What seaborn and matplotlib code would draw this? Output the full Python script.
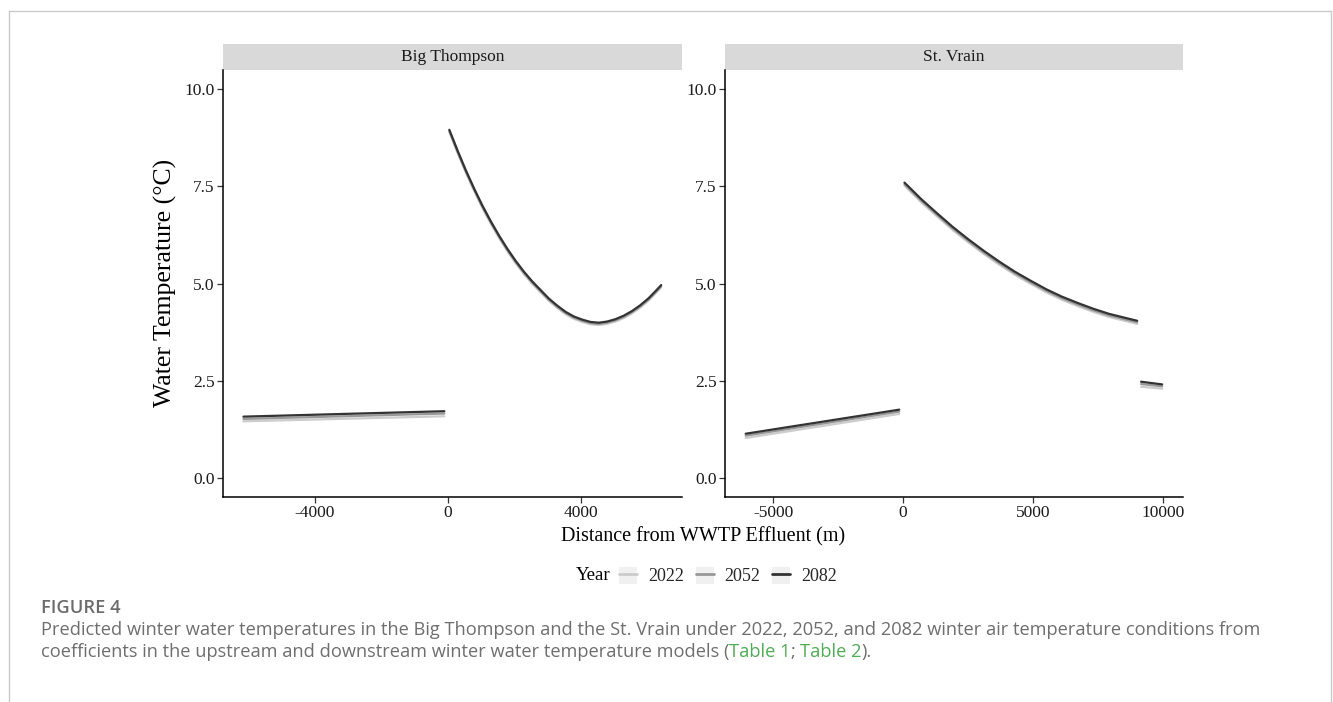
"""Predicted winter water temperature, Big Thompson vs St. Vrain"""
import pandas as pd
import seaborn as sns
import matplotlib.pyplot as plt
from matplotlib.patches import Rectangle, Patch
from matplotlib.lines import Line2D
from matplotlib.legend_handler import HandlerTuple

years = ['2022', '2052', '2082']
year_colors = ['#cccccc', '#989898', '#333333']
rivers = ['Big Thompson', 'St. Vrain']

# --- Big Thompson: upstream (straight) and downstream (curve) ---
bt_up_x = [-6150, -100]
bt_up_2022 = [1.45, 1.58]
bt_up_2052 = [1.51, 1.65]
bt_up_2082 = [1.57, 1.71]

bt_dn_x = [50, 300, 550, 800, 1050, 1300, 1550, 1800, 2050, 2300, 2550, 2800,
           3050, 3300, 3550, 3800, 4050, 4300, 4550, 4800, 5050, 5300, 5550,
           5800, 6050, 6300, 6430]
bt_dn_2082 = [8.96, 8.42, 7.91, 7.44, 7.00, 6.60, 6.23, 5.89, 5.58, 5.30, 5.05,
              4.83, 4.61, 4.43, 4.27, 4.15, 4.07, 4.01, 3.99, 4.02, 4.08, 4.17,
              4.29, 4.44, 4.62, 4.84, 4.96]
bt_dn_2052 = [8.93, 8.39, 7.88, 7.41, 6.97, 6.57, 6.20, 5.86, 5.55, 5.27, 5.02,
              4.80, 4.58, 4.40, 4.24, 4.12, 4.04, 3.98, 3.96, 3.99, 4.05, 4.14,
              4.26, 4.41, 4.59, 4.81, 4.93]
bt_dn_2022 = [8.90, 8.36, 7.85, 7.38, 6.94, 6.54, 6.17, 5.83, 5.52, 5.24, 4.99,
              4.77, 4.55, 4.37, 4.21, 4.09, 4.01, 3.95, 3.93, 3.96, 4.02, 4.11,
              4.23, 4.38, 4.56, 4.78, 4.90]

# --- St. Vrain: upstream, downstream curve, far downstream piece ---
sv_up_x = [-6050, -150]
sv_up_2022 = [1.02, 1.64]
sv_up_2052 = [1.08, 1.70]
sv_up_2082 = [1.13, 1.75]

sv_dn_x = [50, 700, 1300, 1900, 2500, 3100, 3700, 4300, 4900, 5500, 6100,
           6700, 7300, 7900, 8500, 8990]
sv_dn_2082 = [7.60, 7.17, 6.81, 6.46, 6.14, 5.84, 5.56, 5.30, 5.07, 4.85, 4.66,
              4.50, 4.35, 4.22, 4.12, 4.04]
sv_dn_2052 = [7.56, 7.13, 6.77, 6.42, 6.10, 5.80, 5.52, 5.26, 5.03, 4.81, 4.62,
              4.46, 4.31, 4.18, 4.08, 4.00]
sv_dn_2022 = [7.52, 7.09, 6.73, 6.38, 6.06, 5.76, 5.48, 5.22, 4.99, 4.77, 4.58,
              4.42, 4.27, 4.14, 4.04, 3.96]

sv_far_x = [9140, 9950]
sv_far_2022 = [2.34, 2.29]
sv_far_2052 = [2.41, 2.35]
sv_far_2082 = [2.47, 2.40]

# 整理成长表
rows = []


def add(river, seg, year, xs, ys):
    for x, y in zip(xs, ys):
        rows.append({'river': river, 'seg': seg, 'year': year,
                     'dist': x, 'temp': y})


for yr, a, b in zip(years, [bt_up_2022, bt_up_2052, bt_up_2082],
                    [bt_dn_2022, bt_dn_2052, bt_dn_2082]):
    add('Big Thompson', 'up', yr, bt_up_x, a)
    add('Big Thompson', 'dn', yr, bt_dn_x, b)
for yr, a, b, c in zip(years, [sv_up_2022, sv_up_2052, sv_up_2082],
                       [sv_dn_2022, sv_dn_2052, sv_dn_2082],
                       [sv_far_2022, sv_far_2052, sv_far_2082]):
    add('St. Vrain', 'up', yr, sv_up_x, a)
    add('St. Vrain', 'dn', yr, sv_dn_x, b)
    add('St. Vrain', 'far', yr, sv_far_x, c)
df = pd.DataFrame(rows)

sns.set_theme(style='ticks')
plt.rcParams['font.family'] = ['Liberation Serif', 'DejaVu Serif']

fig = plt.figure(figsize=(13.33, 7.02), dpi=100)
W, H = 1333, 702
panels = [(223, 682, [-4000, 0, 4000], (-6765, 7056)),
          (725, 1183, [-5000, 0, 5000, 10000], (-6844, 10750))]
top, bottom = 70, 497
palette = dict(zip(years, year_colors))

for river, (x0, x1, ticks, xlim) in zip(rivers, panels):
    ax = fig.add_axes([x0 / W, 1 - bottom / H, (x1 - x0) / W, (bottom - top) / H])
    sub = df[df['river'] == river]
    sns.lineplot(data=sub, x='dist', y='temp', hue='year', units='seg',
                 estimator=None, palette=palette, hue_order=years,
                 linewidth=1.6, legend=False, ax=ax)
    ax.set_xlim(*xlim)
    ax.set_ylim(-0.5, 10.5)
    ax.set_xticks(ticks)
    ax.set_xticklabels([str(t) for t in ticks])
    ax.set_yticks([0, 2.5, 5, 7.5, 10])
    ax.set_yticklabels(['0.0', '2.5', '5.0', '7.5', '10.0'])
    ax.set_xlabel('')
    ax.set_ylabel('')
    for s in ['top', 'right']:
        ax.spines[s].set_visible(False)
    for s in ['left', 'bottom']:
        ax.spines[s].set_linewidth(1.1)
        ax.spines[s].set_color('black')
    ax.tick_params(length=4, width=0.9, color='#333333', labelsize=12.5,
                   labelcolor='#1a1a1a', pad=2)
    # facet strip
    strip_h = 26 / (bottom - top)
    ax.add_patch(Rectangle((0, 1), 1, strip_h, transform=ax.transAxes,
                           clip_on=False, facecolor='#d9d9d9', edgecolor='none'))
    ax.text(0.5, 1 + strip_h / 2, river, transform=ax.transAxes,
            ha='center', va='center', fontsize=12.5, color='#1a1a1a')

fig.text(165 / W, 1 - 283 / H, 'Water Temperature (°C)', rotation=90,
         ha='center', va='center', fontsize=18.5, color='black')
fig.text(703 / W, 1 - 537 / H, 'Distance from WWTP Effluent (m)',
         ha='center', va='center', fontsize=14.5, color='black')

# legend
handles = [(Patch(facecolor='#f0f0f0', edgecolor='none'),
            Line2D([], [], color=c, lw=2)) for c in year_colors]
fig.text(593 / W, 1 - 575 / H, 'Year', ha='center', va='center',
         fontsize=13.5, color='black')
fig.legend(handles, years, loc='center', bbox_to_anchor=(728 / W, 1 - 576 / H),
           ncol=3, frameon=False, handler_map={tuple: HandlerTuple(ndivide=1)},
           handlelength=1.0, handleheight=1.1, handletextpad=0.6,
           columnspacing=0.65, borderpad=0.2,
           prop={'family': 'Liberation Serif', 'size': 13})

# 外框和图注
fig.add_artist(Line2D([9 / W, 9 / W], [0, 1 - 11 / H], color='#c8c8c8', lw=1))
fig.add_artist(Line2D([9 / W, 1331 / W], [1 - 11 / H, 1 - 11 / H], color='#c8c8c8', lw=1))
fig.add_artist(Line2D([1331 / W, 1331 / W], [0, 1 - 11 / H], color='#c8c8c8', lw=1))

cap = ['Open Sans', 'DejaVu Sans']
cs = 13.15
fig.text(41 / W, 1 - 608 / H, 'FIGURE 4', family=cap, fontsize=cs,
         fontweight='semibold', color='#6b6b6b', va='center')
fig.text(41 / W, 1 - 630 / H,
         'Predicted winter water temperatures in the Big Thompson and the St. Vrain '
         'under 2022, 2052, and 2082 winter air temperature conditions from',
         family=cap, fontsize=cs, color='#6e6e6e', va='center')
t1 = fig.text(41 / W, 1 - 652 / H,
              'coefficients in the upstream and downstream winter water '
              'temperature models (',
              family=cap, fontsize=cs, color='#6e6e6e', va='center')
fig.canvas.draw()
bb = t1.get_window_extent()
t2 = fig.text(bb.x1 / W, 1 - 652 / H, 'Table 1', family=cap, fontsize=cs,
              color='#4caf50', va='center')
bb = t2.get_window_extent()
t3 = fig.text(bb.x1 / W, 1 - 652 / H, '; ', family=cap, fontsize=cs,
              color='#6e6e6e', va='center')
bb = t3.get_window_extent()
t4 = fig.text(bb.x1 / W, 1 - 652 / H, 'Table 2', family=cap, fontsize=cs,
              color='#4caf50', va='center')
bb = t4.get_window_extent()
fig.text(bb.x1 / W, 1 - 652 / H, ').', family=cap, fontsize=cs,
         color='#6e6e6e', va='center')

plt.savefig('out.png', dpi=100)
